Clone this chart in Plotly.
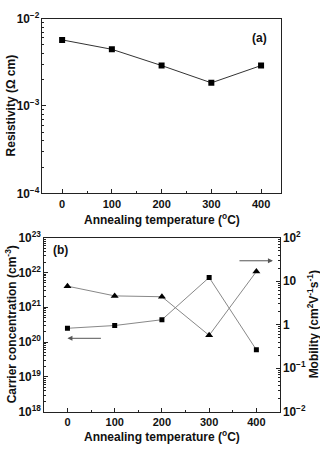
import plotly.graph_objects as go

temperature = [0, 100, 200, 300, 400]
resistivity = [5.7e-3, 4.45e-3, 2.9e-3, 1.84e-3, 2.9e-3]
carrier_conc = [2.5e20, 3.0e20, 4.4e20, 7.2e21, 6.0e19]
mobility = [7.7, 4.6, 4.4, 0.57, 16.7]

FONT = "Liberation Sans, Arial, sans-serif"
xtickfont = dict(family=FONT, size=11, color="#111", weight="bold")
ytickfont = dict(family=FONT, size=9.5, color="#111", weight="bold")
titlefont = dict(family=FONT, size=12, color="#111", weight="bold")

fig = go.Figure()

fig.add_trace(go.Scatter(x=temperature, y=resistivity, mode="lines+markers",
                         line=dict(color="#333", width=1),
                         marker=dict(symbol="square", size=6, color="black"),
                         xaxis="x", yaxis="y", showlegend=False))
fig.add_trace(go.Scatter(x=temperature, y=carrier_conc, mode="lines+markers",
                         line=dict(color="#888", width=1),
                         marker=dict(symbol="square", size=5, color="black"),
                         xaxis="x2", yaxis="y2", showlegend=False))
fig.add_trace(go.Scatter(x=temperature, y=mobility, mode="lines+markers",
                         line=dict(color="#888", width=1),
                         marker=dict(symbol="triangle-up", size=7, color="black"),
                         xaxis="x2", yaxis="y3", showlegend=False))

axcommon = dict(showline=True, linecolor="#222", linewidth=1, ticks="inside",
                tickcolor="#222", ticklen=4, showgrid=False, zeroline=False)
xminor = dict(dtick=50, ticks="inside", ticklen=2, tickcolor="#222")
yminor = dict(dtick="D1", ticks="inside", ticklen=2, tickcolor="#222")

fig.update_layout(
    width=320, height=450, margin=dict(l=0, r=0, t=0, b=0),
    paper_bgcolor="white", plot_bgcolor="white",
    xaxis=dict(domain=[0.132, 0.878], anchor="y", range=[-40, 440],
               tickvals=[0, 100, 200, 300, 400], mirror=True, minor=xminor,
               tickfont=xtickfont, **axcommon),
    yaxis=dict(domain=[0.575, 0.978], anchor="x", type="log", range=[-4, -2],
               dtick=1, exponentformat="power", mirror=True, minor=yminor,
               tickfont=ytickfont, **axcommon),
    xaxis2=dict(domain=[0.137, 0.875], anchor="y2", range=[-50, 450],
                tickvals=[0, 100, 200, 300, 400], mirror=True, minor=xminor,
                tickfont=xtickfont, **axcommon),
    yaxis2=dict(domain=[0.072, 0.473], anchor="x2", type="log", range=[18, 23],
                dtick=1, exponentformat="power", minor=yminor,
                tickfont=ytickfont, **axcommon),
    yaxis3=dict(domain=[0.072, 0.473], anchor="x2", overlaying="y2", side="right",
                type="log", range=[-2, 2], dtick=1, exponentformat="power",
                minor=yminor, tickfont=ytickfont, **axcommon),
)

def label(text, x, y, angle=0, font=titlefont):
    return dict(text=text, x=x / 320, y=1 - y / 450, xref="paper", yref="paper",
                xanchor="center", yanchor="middle", textangle=angle,
                showarrow=False, font=font)

panel_font = dict(family=FONT, size=12, weight="bold", color="#111")
annotations = [
    label("(a)", 259, 30, font=panel_font),
    label("(b)", 60, 250, font=panel_font),
    label("Annealing temperature (<sup>o</sup>C)", 162, 218),
    label("Annealing temperature (<sup>o</sup>C)", 162, 443),
    label("Resistivity (Ω cm)", 11, 100, -90),
    label("Carrier concentration (cm<sup>-3</sup>)", 11, 327, -90),
    label("Mobility (cm<sup>2</sup>V<sup>-1</sup>s<sup>-1</sup>)", 313, 327, -90),
    # arrows pointing to the corresponding axes
    dict(x=0, y=20.11, ax=74, ay=20.11, xref="x2", yref="y2", axref="x2", ayref="y2",
         showarrow=True, arrowhead=2, arrowsize=1, arrowwidth=1, arrowcolor="#555", text=""),
    dict(x=435, y=1.47, ax=361, ay=1.47, xref="x2", yref="y3", axref="x2", ayref="y3",
         showarrow=True, arrowhead=2, arrowsize=1, arrowwidth=1, arrowcolor="#555", text=""),
]
fig.update_layout(annotations=annotations)

fig.write_html("out.html")
